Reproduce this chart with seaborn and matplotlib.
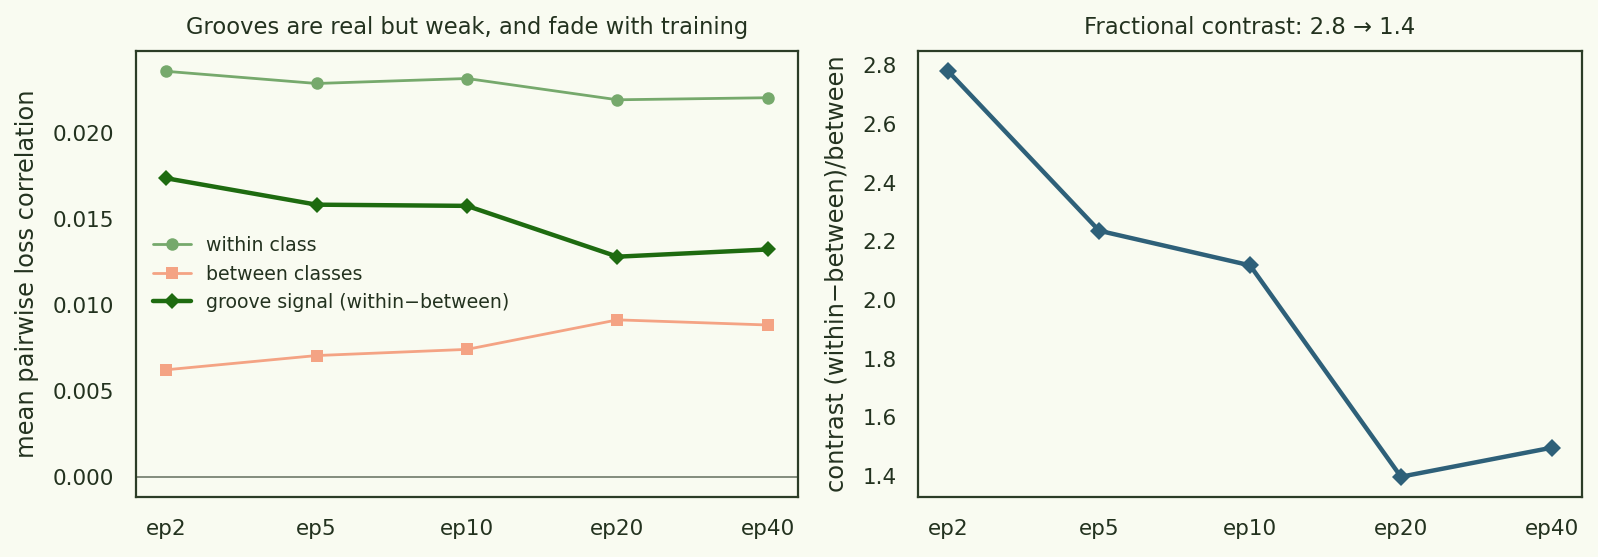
import matplotlib
matplotlib.use("Agg")
import matplotlib.pyplot as plt
import seaborn as sns
import pandas as pd

# epochs on the x axis
epochs = ["ep2", "ep5", "ep10", "ep20", "ep40"]

# mean pairwise loss correlation
within_class = [0.02362, 0.02291, 0.02320, 0.02196, 0.02208]
between_classes = [0.00623, 0.00706, 0.00742, 0.00914, 0.00884]
groove_signal = [0.01739, 0.01585, 0.01578, 0.01282, 0.01324]

# contrast (within-between)/between
contrast = [2.779, 2.236, 2.118, 1.398, 1.497]

BG = "#f9fbf1"
INK = "#23321f"
SPINE = "#2c3d27"

sns.set_theme(style="white")
plt.rcParams.update({
    "font.family": ["DejaVu Sans"],
    "figure.facecolor": BG,
    "axes.facecolor": BG,
    "text.color": INK,
    "axes.labelcolor": INK,
    "xtick.color": INK,
    "ytick.color": INK,
})

df = pd.DataFrame({
    "epoch": epochs,
    "within": within_class,
    "between": between_classes,
    "groove": groove_signal,
    "contrast": contrast,
})

fig = plt.figure(figsize=(15.98, 5.57), dpi=100)
ax1 = fig.add_axes([0.0851, 0.1077, 0.4143, 0.8007])
ax2 = fig.add_axes([0.5745, 0.1077, 0.4155, 0.8007])

ax1.axhline(0, color="#6f7a6a", lw=1.2, zorder=1)
sns.lineplot(data=df, x="epoch", y="within", ax=ax1, color="#76a96c", lw=2,
             marker="o", markersize=9, markeredgewidth=0, label="within class")
sns.lineplot(data=df, x="epoch", y="between", ax=ax1, color="#f4a384", lw=2,
             marker="s", markersize=8, markeredgewidth=0, label="between classes")
sns.lineplot(data=df, x="epoch", y="groove", ax=ax1, color="#1e6b10", lw=3.2,
             marker="D", markersize=8, markeredgewidth=0,
             label="groove signal (within\u2212between)")
ax1.set_title("Grooves are real but weak, and fade with training", fontsize=16.3, pad=12)
ax1.set_ylabel("mean pairwise loss correlation", fontsize=17.4, labelpad=10)
ax1.set_xlabel("")
ax1.set_yticks([0.0, 0.005, 0.010, 0.015, 0.020])
ax1.yaxis.set_major_formatter(matplotlib.ticker.FormatStrFormatter("%.3f"))
ax1.legend(loc="center left", frameon=False, fontsize=13.6, handlelength=2)

sns.lineplot(data=df, x="epoch", y="contrast", ax=ax2, color="#2e6079", lw=3.2,
             marker="D", markersize=9, markeredgewidth=0)
ax2.set_title("Fractional contrast: 2.8 \u2192 1.4", fontsize=16.3, pad=12)
ax2.set_ylabel("contrast (within\u2212between)/between", fontsize=17.4, labelpad=10)
ax2.set_xlabel("")

for ax in (ax1, ax2):
    ax.set_xlim(-0.2, 4.2)
    ax.tick_params(axis="both", length=0, pad=15.5, labelsize=15.5)
    for s in ax.spines.values():
        s.set_color(SPINE)
        s.set_linewidth(1.6)

fig.savefig("out.png", dpi=100, facecolor=BG)
